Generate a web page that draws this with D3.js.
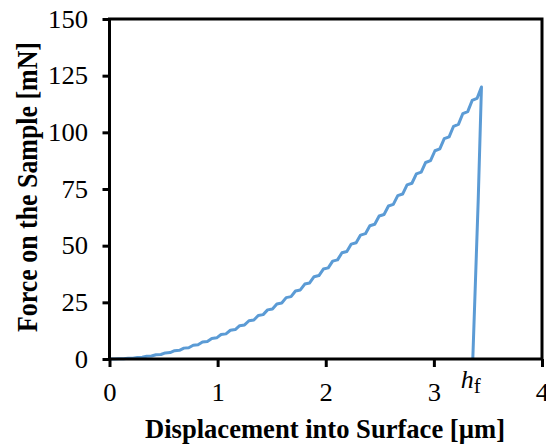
<!DOCTYPE html>
<html>
<head>
<meta charset="utf-8">
<script src="https://cdn.jsdelivr.net/npm/d3@7"></script>
<style>
  body { margin: 0; background: #fff; }
  svg text { font-family: "Liberation Serif", "DejaVu Serif", serif; }
</style>
</head>
<body>
<div id="chart"></div>
<script>
// loading curve: step-wise load/hold points
const loadDepth = [
  0, 0.045, 0.086, 0.131, 0.172, 0.217, 0.258, 0.303, 0.344, 0.389,
  0.43, 0.475, 0.516, 0.561, 0.602, 0.647, 0.688, 0.733, 0.774, 0.819,
  0.86, 0.905, 0.946, 0.991, 1.032, 1.077, 1.118, 1.163, 1.204, 1.249,
  1.29, 1.335, 1.376, 1.421, 1.462, 1.507, 1.548, 1.593, 1.634, 1.679,
  1.72, 1.765, 1.806, 1.851, 1.892, 1.937, 1.978, 2.023, 2.064, 2.109,
  2.15, 2.195, 2.236, 2.281, 2.322, 2.367, 2.408, 2.453, 2.494, 2.539,
  2.58, 2.625, 2.666, 2.711, 2.752, 2.797, 2.838, 2.883, 2.924, 2.969,
  3.01, 3.055, 3.096, 3.141, 3.182, 3.227, 3.268, 3.313, 3.354, 3.399,
  3.44
]
const loadForce = [
  0, 0.01, 0.08, 0.11, 0.30, 0.36, 0.68, 0.76, 1.20, 1.30,
  1.88, 2.00, 2.70, 2.85, 3.67, 3.84, 4.80, 4.99, 6.07, 6.28,
  7.50, 7.74, 9.07, 9.33, 10.80, 11.08, 12.67, 12.98, 14.70, 15.03,
  16.87, 17.22, 19.20, 19.57, 21.67, 22.06, 24.30, 24.72, 27.07, 27.51,
  30.00, 30.46, 33.07, 33.55, 36.30, 36.81, 39.67, 40.20, 43.20, 43.75,
  46.87, 47.44, 50.70, 51.30, 54.67, 55.29, 58.80, 59.44, 63.07, 63.74,
  67.50, 68.19, 72.07, 72.78, 76.80, 77.53, 81.67, 82.43, 86.70, 87.48,
  91.87, 92.67, 97.20, 98.02, 102.67, 103.51, 108.30, 109.16, 114.07, 114.96,
  120.0
]
// unloading branch
const unloadDepth = [3.44, 3.41, 3.36]
const unloadForce = [120.0, 70.0, 0]

const hf = 3.36
const xTicks = [0, 1, 2, 3, 4]
const yTicks = [0, 25, 50, 75, 100, 125, 150]

const width = 546, height = 446
const plotLeft = 109.5, plotRight = 542, plotTop = 19, plotBottom = 359

const x = d3.scaleLinear().domain([0, 4]).range([plotLeft, plotRight])
const y = d3.scaleLinear().domain([0, 150]).range([plotBottom, plotTop])

const svg = d3.select("#chart")
    .append("svg")
    .attr("width", width)
    .attr("height", height)

const loadPts = loadDepth.map((d, i) => [d, loadForce[i]])
const unloadPts = unloadDepth.map((d, i) => [d, unloadForce[i]])

const line = d3.line()
    .x(d => x(d[0]))
    .y(d => y(d[1]))

svg.append("path")
    .datum(loadPts.concat(unloadPts.slice(1)))
    .attr("d", line)
    .attr("fill", "none")
    .attr("stroke", "#5b9bd5")
    .attr("stroke-width", 3)
    .attr("stroke-linejoin", "round")

// frame
svg.append("rect")
    .attr("x", plotLeft)
    .attr("y", plotTop)
    .attr("width", plotRight - plotLeft)
    .attr("height", plotBottom - plotTop)
    .attr("fill", "none")
    .attr("stroke", "#000")
    .attr("stroke-width", 3)

const xAxis = svg.append("g")
    .attr("transform", `translate(0,${plotBottom})`)
    .call(d3.axisBottom(x).tickValues(xTicks).tickSize(8).tickPadding(16).tickFormat(d3.format("d")))

const yAxis = svg.append("g")
    .attr("transform", `translate(${plotLeft},0)`)
    .call(d3.axisLeft(y).tickValues(yTicks).tickSize(7).tickPadding(14.5).tickFormat(d3.format("d")))

for (const g of [xAxis, yAxis]) {
    g.attr("font-family", null)
    g.select(".domain").remove()
    g.selectAll(".tick line").attr("stroke", "#000").attr("stroke-width", 3)
    g.selectAll(".tick text")
        .attr("fill", "#000")
        .attr("font-size", 25)
        .attr("textLength", d => String(d).length * 13.3)
        .attr("lengthAdjust", "spacingAndGlyphs")
}

// h_f label
const hfLabel = svg.append("text")
    .attr("x", x(hf) - 12)
    .attr("y", 388)
    .attr("font-size", 26)
    .attr("fill", "#000")
hfLabel.append("tspan").attr("font-style", "italic").text("h")
hfLabel.append("tspan").attr("dy", 5).attr("font-size", 21).text("f")

svg.append("text")
    .attr("x", 325)
    .attr("y", 437.5)
    .attr("text-anchor", "middle")
    .attr("font-size", 28)
    .attr("font-weight", "bold")
    .attr("textLength", 360)
    .attr("lengthAdjust", "spacingAndGlyphs")
    .text("Displacement into Surface [µm]")

svg.append("text")
    .attr("transform", `translate(36.5,187) rotate(-90)`)
    .attr("text-anchor", "middle")
    .attr("font-size", 29)
    .attr("font-weight", "bold")
    .attr("textLength", 290)
    .attr("lengthAdjust", "spacingAndGlyphs")
    .text("Force on the Sample [mN]")
</script>
</body>
</html>
